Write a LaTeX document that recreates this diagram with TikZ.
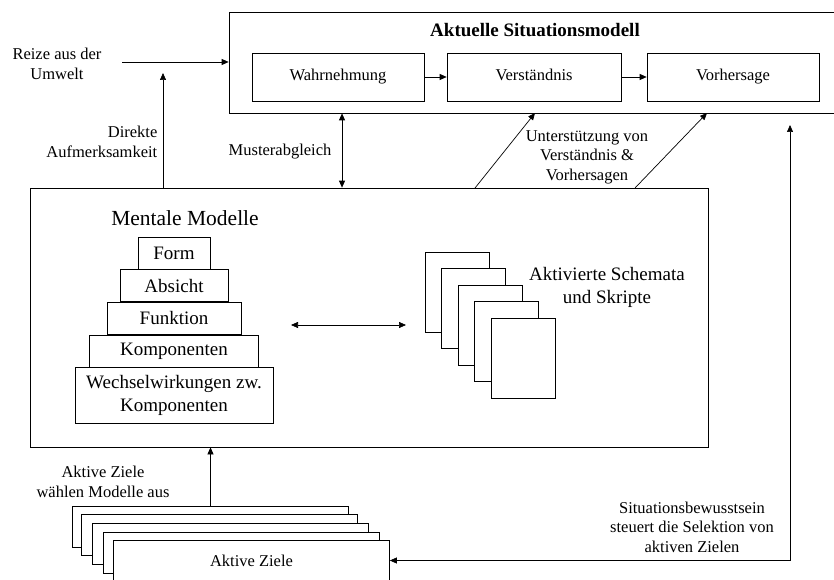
\documentclass[tikz,border=0pt]{standalone}
\usepackage{fontspec}
\setmainfont{Liberation Serif}
\usetikzlibrary{arrows.meta,positioning}
\begin{document}
\begin{tikzpicture}[x=1pt,y=-1pt,line width=0.7pt,>={Triangle[length=7pt,width=6pt]},
    every node/.style={font=\fontsize{16.5}{19.5}\selectfont,align=center},
    box/.style={draw,inner sep=0pt,minimum width=#1,minimum height=48pt,text height=11.5pt,text depth=3.5pt},
    stufe/.style={draw,inner sep=0pt,minimum width=#1,minimum height=32pt,font=\fontsize{19}{23}\selectfont},
    blatt/.style={draw,fill=white,inner sep=0pt,minimum width=64pt,minimum height=80pt},
    ziel/.style={draw,fill=white,inner sep=0pt,minimum width=276pt,minimum height=41pt}]
    \useasboundingbox (0,0) rectangle (834,580);
    \clip (0,0) rectangle (834,580);
    \node[draw,minimum width=621pt,minimum height=101pt] (situ) at (539.5,62.5) {};
    \node[font=\bfseries\fontsize{19}{23}\selectfont] (titel) at (535,30) {Aktuelle Situationsmodell};
    \node[box=172pt] (wahr) at (338,77) {Wahrnehmung};
    \node[box=174pt] (verst) at (534,77) {Verständnis};
    \node[box=172pt] (vorh) at (733,77) {Vorhersage};
    \draw[->] (wahr) -- (verst);
    \draw[->] (verst) -- (vorh);
    \node (reize) at (57,64) {Reize aus der\\Umwelt};
    \coordinate (rz) at (122,62);
    \draw[->] (rz) -- (rz -| situ.west);
    \node[draw,minimum width=678pt,minimum height=259pt] (mental) at (369,317.5) {};
    \coordinate (da) at (163,73);
    \draw[->] (da |- mental.north) -- (da);
    \node[anchor=east,align=right] (direkt) at (161,142) {Direkte\\Aufmerksamkeit};
    \coordinate (ma) at (342,150);
    \draw[<->] (ma |- situ.south) -- (ma |- mental.north);
    \node[anchor=east] (muster) at (335,152) {Musterabgleich};
    \coordinate (u1) at (475,188);
    \coordinate (u2) at (535,113);
    \coordinate (v1) at (635,188);
    \coordinate (v2) at (707,113);
    \draw[->] (u1) -- (u2);
    \draw[->] (v1) -- (v2);
    \node (unter) at (587,157) {Unterstützung von\\Verständnis \&\\Vorhersagen};
    \node[font=\fontsize{21.5}{26}\selectfont] (mm) at (185,218) {Mentale Modelle};
    \node[stufe=72pt] (form) at (174,253) {Form};
    \node[stufe=108pt,below=0pt of form] (absicht) {Absicht};
    \node[stufe=134pt,below=0pt of absicht] (funktion) {Funktion};
    \node[stufe=169pt,below=0pt of funktion] (komp) {Komponenten};
    \node[stufe=198pt,minimum height=56pt,below=0pt of komp] (wechsel) {Wechselwirkungen zw.\\Komponenten};
    \coordinate (ml) at (291,325);
    \coordinate (mr) at (406,325);
    \draw[<->] (ml) -- (mr);
    \foreach \i in {0,...,4}
        \node[blatt] (blatt\i) at (457+16.5*\i,292+16.5*\i) {};
    \node[font=\fontsize{19}{23}\selectfont] (schema) at (607,287.5) {Aktivierte Schemata\\und Skripte};
    \foreach \i/\x/\y in {1/210.5/526.5,2/219/534.5,3/230.5/543.5,4/241/552.5}
        \node[ziel] (ziel\i) at (\x,\y) {};
    \node[ziel] (ziel5) at (251.5,560.5) {Aktive Ziele};
    \draw[->] (ziel1.north) -- (ziel1.north |- mental.south);
    \node (waehlen) at (103,482) {Aktive Ziele\\wählen Modelle aus};
    \coordinate (sb) at (790,125);
    \draw[<->] (sb) |- (ziel5.east);
    \node (bewusst) at (692,527) {Situationsbewusstsein\\steuert die Selektion von\\aktiven Zielen};
\end{tikzpicture}
\end{document}
